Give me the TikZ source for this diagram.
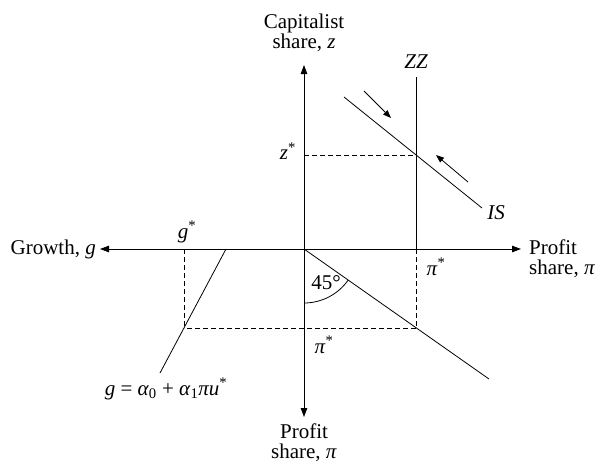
\documentclass[tikz,border=0pt]{standalone}
\usepackage{fontspec}
\setmainfont{Liberation Serif}
\usetikzlibrary{arrows.meta}
\newcommand{\vi}[1]{\textit{#1}}
\begin{document}
\begin{tikzpicture}[x=1pt,y=-1pt,
  axis/.style={-{Triangle[length=9pt,width=6.5pt]}, line width=0.8pt},
  small/.style={-{Triangle[length=8pt,width=6pt]}, line width=0.8pt},
  curve/.style={line width=0.8pt},
  guide/.style={dash pattern=on 5pt off 3pt, line width=0.7pt},
  lbl/.style={font=\fontsize{21}{20}\selectfont, inner sep=1pt}]
\useasboundingbox (0,0) rectangle (596,469);
% axes
\coordinate (O) at (304,249);
\coordinate (top) at (304,65);
\coordinate (bot) at (304,417);
\coordinate (left) at (100,249);
\coordinate (right) at (521,249);
\draw[axis] (O) -- (top);
\draw[axis] (O) -- (bot);
\draw[axis] (O) -- (left);
\draw[axis] (O) -- (right);
% ZZ
\coordinate (zztop) at (416,77);
\coordinate (zzbot) at (416,249);
\draw[curve] (zztop) -- (zzbot);
\node[lbl, font=\fontsize{21}{20}\selectfont\itshape] (zzl) at (416,62) {ZZ};
% IS
\coordinate (is1) at (344,97);
\coordinate (is2) at (482,208);
\draw[curve] (is1) -- (is2);
\node[lbl, font=\fontsize{21}{20}\selectfont\itshape] (isl) at (496,213) {IS};
\coordinate (a1s) at (364,91);
\coordinate (a1e) at (391,118);
\draw[small] (a1s) -- (a1e);
\coordinate (a2s) at (468,182);
\coordinate (a2e) at (436,155);
\draw[small] (a2s) -- (a2e);
% equilibrium
\coordinate (E) at (416,155);
\coordinate (zs) at (304,155);
\draw[guide] (zs) -- (E);
\node[lbl] (zstar) at (288,151) {\vi{z}\textsuperscript{*}};
% 45 line
\coordinate (d1) at (489,379);
\coordinate (P) at (416,328);
\draw[curve] (O) -- (d1);
\draw[guide] (zzbot) -- (P);
\coordinate (Q) at (184,328);
\draw[guide] (P) -- (Q);
\coordinate (gs) at (184,249);
\draw[guide] (gs) -- (Q);
\draw[curve] (304,303) arc[start angle=90, end angle=35.1, radius=54];
\node[lbl] (ang) at (326,283) {45°};
\node[lbl] (pis1) at (436,267) {\vi{π}\textsuperscript{*}};
\node[lbl] (pis2) at (324,345) {\vi{π}\textsuperscript{*}};
\node[lbl] (gstar) at (187,232) {\vi{g}\textsuperscript{*}};
% growth line
\coordinate (g1) at (226,249);
\coordinate (g2) at (160,373);
\draw[curve] (g1) -- (g2);
\node[lbl] (geq) at (166,389) {\vi{g} = \vi{α}\textsubscript{0} + \vi{α}\textsubscript{1}\vi{πu}\textsuperscript{*}};
% axis labels
\node[lbl, align=center] (cap) at (304,33) {Capitalist\\share, \vi{z}};
\node[lbl, anchor=east] (gro) at (97,249) {Growth, \vi{g}};
\node[lbl, align=left, anchor=west] (pr) at (528,259) {Profit\\share, \vi{π}};
\node[lbl, align=center] (pb) at (304,443) {Profit\\share, \vi{π}};
\end{tikzpicture}
\end{document}
